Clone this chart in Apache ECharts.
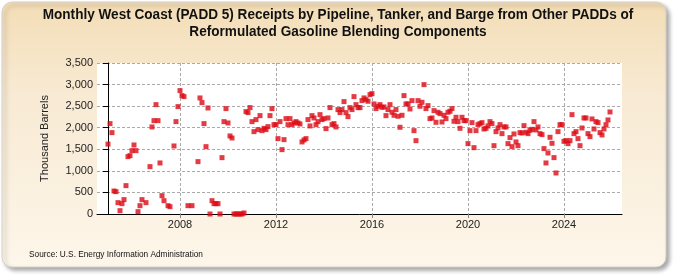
<!DOCTYPE html>
<html>
<head>
<meta charset="utf-8">
<script src="https://cdn.jsdelivr.net/npm/echarts@6/dist/echarts.min.js"></script>
<style>
  html, body { margin: 0; padding: 0; background: #fff; }
  #chart { width: 675px; height: 275px; }
</style>
</head>
<body>
<div id="chart"></div>
<script>
// monthly receipts, thousand barrels, Jan..Dec (null = no value shown)
var firstYear = 2005;
var r2005 = [1620, 2095, 1886, 533, 518, 263, 77, 240, 333, 657, 1330, 1353];
var r2006 = [1469, 1600, 1469, 54, 193, 333, null, 263, null, 1098, 2018, 2164];
var r2007 = [2535, 2164, 1183, 425, 309, null, 193, 170, null, 1577, 2141, 2489];
var r2008 = [2860, 2744, 2721, null, 193, null, 193, null, null, 1214, 2690, 2582];
var r2009 = [2095, 1561, 2458, 0, 309, 240, 240, 240, 0, 1306, 2141, 2443];
var r2010 = [2110, 1809, 1762, 0, 0, 0, 0, 0, 23, 2373, 2350, 2466];
var r2011 = [2141, 1909, 2188, 1955, 2280, 1932, 1986, 1955, 2025, 2280, 2443, 2071];
var r2012 = [2071, 1747, 2141, 1492, 1724, 2211, 2071, 2211, 2071, 2110, 2141, 2110];
var r2013 = [2087, 1670, 1716, 1747, 2188, 2041, 2280, 2226, 2071, 2141, 2303, 2188];
var r2014 = [2211, 1979, 2226, 2466, 2071, 2095, 2018, 2420, 2350, 2420, 2605, 2350];
var r2015 = [2257, 2466, 2420, 2721, 2535, 2466, 2466, 2628, 2690, 2651, 2613, 2767];
var r2016 = [2790, 2551, 2443, 2497, 2535, 2474, 2481, 2280, 2420, 2535, 2358, 2288];
var r2017 = [2420, 2265, 2010, 2288, 2744, 2551, 2551, 2435, 2628, 1932, 1700, 2628];
var r2018 = [2497, 2590, 2999, 2443, 2512, 2211, 2226, 2396, 2126, 2358, 2327, 2133];
var r2019 = [2288, 2211, 2358, 2381, 2443, 2149, 2242, 2141, 1986, 2242, 2164, 2164];
var r2020 = [1631, 1932, 2118, 1538, 1932, 2071, 2095, 2118, 1971, 1986, 2041, 2141];
var r2021 = [2095, 1584, 1909, 1994, 2071, 1863, 2018, 2018, 1631, 1770, 1561, 1855];
var r2022 = [1670, 1584, 1886, 1878, 2048, 1894, 1863, 1940, 1963, 2141, 1948, 2018];
var r2023 = [1863, 1840, 1516, 1183, 1415, 1778, 1639, 1307, 951, 1909, 2071, 2071];
var r2024 = [1685, 1700, 1631, 1700, 2303, 1863, 1909, 1747, 1584, 1994, 2226, 2226];
var r2025 = [1863, 1793, 2203, 1971, 2141, 2118, 1886, 1832, 1971, 2071, 2180, 2365];

var yearTicks = [2008, 2012, 2016, 2020, 2024];

var receipts = [].concat(r2005, r2006, r2007, r2008, r2009, r2010, r2011, r2012,
  r2013, r2014, r2015, r2016, r2017, r2018, r2019, r2020, r2021, r2022, r2023,
  r2024, r2025);

// x = months since Jan of firstYear
var points = [];
for (var i = 0; i < receipts.length; i++) {
  if (receipts[i] !== null) points.push([i, receipts[i]]);
}
var tickMonths = yearTicks.map(function (y) { return (y - firstYear) * 12; });

var chart = echarts.init(document.getElementById('chart'));

var option = {
  animation: false,
  graphic: [
    {
      type: 'rect',
      z: -100,
      shape: { x: 2, y: 2, width: 664, height: 265, r: 10 },
      style: {
        fill: {
          type: 'linear', x: 0, y: 0, x2: 0, y2: 1,
          colorStops: [
            { offset: 0, color: '#f3ddb6' },
            { offset: 0.35, color: '#f8ead3' },
            { offset: 1, color: '#fdf6ea' }
          ]
        },
        stroke: '#d8d2c8',
        lineWidth: 1,
        shadowBlur: 4,
        shadowOffsetX: 3,
        shadowOffsetY: 3,
        shadowColor: 'rgba(0,0,0,0.35)'
      }
    },
    {
      // title: narrow bold face, squeezed horizontally
      type: 'text',
      x: 338,
      y: 7,
      scaleX: 0.97,
      style: {
        text: 'Monthly West Coast (PADD 5) Receipts by Pipeline, Tanker, and Barge from Other PADDs of\nReformulated Gasoline Blending Components',
        align: 'center',
        verticalAlign: 'top',
        fontFamily: 'Liberation Sans, Arial, sans-serif',
        fontWeight: 'bold',
        fontSize: 14,
        lineHeight: 17,
        fill: '#111'
      }
    },
    {
      type: 'text',
      x: 29,
      y: 250,
      scaleX: 0.92,
      style: {
        text: 'Source: U.S. Energy Information Administration',
        fontFamily: 'Liberation Sans, Arial, sans-serif',
        fontSize: 9,
        fill: '#111'
      }
    }
  ],
  grid: {
    left: 97,
    right: 53,
    top: 63,
    bottom: 61,
    show: true,
    backgroundColor: '#fff',
    borderWidth: 0
  },
  xAxis: {
    type: 'value',
    min: -5.5,
    max: 257,
    axisLine: { show: true, lineStyle: { color: '#000', width: 1 } },
    axisTick: { show: true, length: 4, customValues: tickMonths, lineStyle: { color: '#888' } },
    axisLabel: {
      customValues: tickMonths,
      margin: 5,
      fontFamily: 'Liberation Sans, Arial, sans-serif',
      fontSize: 11,
      color: '#222',
      formatter: function (v) { return String(firstYear + Math.round(v / 12)); }
    },
    splitLine: {
      show: true,
      lineStyle: { color: '#aaa', type: [3, 2], width: 1 }
    }
  },
  yAxis: {
    type: 'value',
    min: 0,
    max: 3500,
    interval: 500,
    name: 'Thousand Barrels',
    nameLocation: 'middle',
    nameGap: 47,
    nameTextStyle: {
      fontFamily: 'Liberation Sans, Arial, sans-serif',
      fontSize: 11,
      color: '#222'
    },
    axisLine: { show: true, lineStyle: { color: '#000', width: 1 } },
    axisTick: { show: true, length: 5, lineStyle: { color: '#000' } },
    axisLabel: {
      margin: 4,
      fontFamily: 'Liberation Sans, Arial, sans-serif',
      fontSize: 11,
      color: '#222',
      formatter: function (v) { return v.toLocaleString('en-US'); }
    },
    splitLine: {
      show: true,
      lineStyle: { color: '#aaa', type: [3, 2], width: 1 }
    }
  },
  series: [
    {
      name: 'Receipts',
      type: 'scatter',
      symbol: 'rect',
      symbolSize: 5,
      data: points,
      itemStyle: { color: '#dc0a14' }
    }
  ]
};

chart.setOption(option);
</script>
</body>
</html>
